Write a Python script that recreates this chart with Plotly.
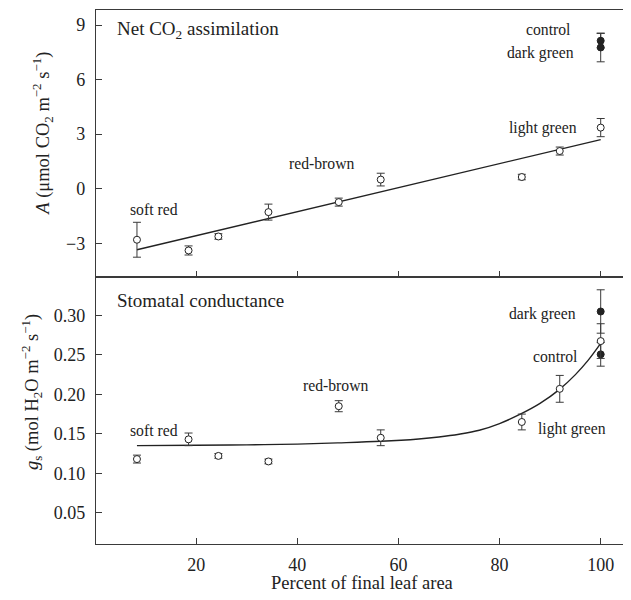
import plotly.graph_objects as go

# ---- data ----
leaf_pct = [8.3, 18.5, 24.4, 34.3, 48.2, 56.5, 84.4, 91.9, 100]
A_open = [-2.81, -3.40, -2.63, -1.29, -0.74, 0.50, 0.64, 2.07, 3.36]
A_open_err = [0.96, 0.25, 0.15, 0.44, 0.22, 0.35, 0.15, 0.22, 0.50]
gs_open = [0.118, 0.143, 0.122, 0.115, 0.185, 0.145, 0.165, 0.207, 0.2675]
gs_open_err = [0.005, 0.008, 0.003, 0.003, 0.007, 0.010, 0.010, 0.017, 0.022]

filled_pct = [100, 100]              # control, dark green
A_filled = [8.14, 7.77]
A_filled_err = [0.40, 0.79]
gs_filled = [0.2507, 0.305]
gs_filled_err = [0.015, 0.0275]

A_fit_x = [8.3, 100]
A_fit_y = [-3.36, 2.70]
gs_fit_x = [8.3, 20, 30, 40, 48, 56.5, 64, 68, 72, 76, 80, 84, 88, 91.8, 95, 97.5, 100]
gs_fit_y = [0.1350, 0.1355, 0.1360, 0.1370, 0.1385, 0.1405, 0.1435, 0.1460, 0.1495,
            0.1545, 0.1630, 0.1745, 0.1885, 0.2060, 0.2250, 0.2430, 0.2645]

x_ticks = [20, 40, 60, 80, 100]
A_ticks = [-3, 0, 3, 6, 9]
gs_ticks = [0.05, 0.10, 0.15, 0.20, 0.25, 0.30]

FONT = "Liberation Serif, Times New Roman, serif"
INK = "#222222"
AX = "#3a3a3a"

fig = go.Figure()

# top panel (x2, y2)
fig.add_trace(go.Scatter(x=A_fit_x, y=A_fit_y, mode="lines", xaxis="x2", yaxis="y2",
                         line=dict(color=INK, width=1.4), showlegend=False))
fig.add_trace(go.Scatter(x=leaf_pct, y=A_open, mode="markers", xaxis="x2", yaxis="y2",
                         error_y=dict(type="data", array=A_open_err, color=AX, thickness=1, width=4),
                         marker=dict(symbol="circle", size=7, color="white", line=dict(color=INK, width=1)),
                         showlegend=False))
fig.add_trace(go.Scatter(x=filled_pct, y=A_filled, mode="markers", xaxis="x2", yaxis="y2",
                         error_y=dict(type="data", array=A_filled_err, color=AX, thickness=1, width=4),
                         marker=dict(symbol="circle", size=7, color=INK, line=dict(color=INK, width=1)),
                         showlegend=False))

# bottom panel (x, y)
fig.add_trace(go.Scatter(x=gs_fit_x, y=gs_fit_y, mode="lines", line_shape="spline",
                         line=dict(color=INK, width=1.4), showlegend=False))
fig.add_trace(go.Scatter(x=filled_pct, y=gs_filled, mode="markers",
                         error_y=dict(type="data", array=gs_filled_err, color=AX, thickness=1, width=4),
                         marker=dict(symbol="circle", size=7, color=INK, line=dict(color=INK, width=1)),
                         showlegend=False))
fig.add_trace(go.Scatter(x=leaf_pct, y=gs_open, mode="markers",
                         error_y=dict(type="data", array=gs_open_err, color=AX, thickness=1, width=4),
                         marker=dict(symbol="circle", size=7, color="white", line=dict(color=INK, width=1)),
                         showlegend=False))

axis_common = dict(showline=True, linecolor=AX, linewidth=1.3, mirror=True, ticks="inside",
                   ticklen=6, tickwidth=1, tickcolor=AX, showgrid=False, zeroline=False,
                   automargin=False, tickfont=dict(family=FONT, size=18, color=INK))

# the page body adds an 8px offset, so the figure is sized/positioned to compensate
fig.update_layout(
    width=623, height=592,
    margin=dict(l=88, r=4, t=2, b=56),
    paper_bgcolor="white", plot_bgcolor="white",
    font=dict(family=FONT, color=INK),
    xaxis=dict(domain=[0, 1], range=[0.2, 105.2], tickvals=x_ticks, anchor="y",
               ticklabelstandoff=4, **axis_common),
    yaxis=dict(domain=[0, 0.5], range=[0.0104, 0.3487], tickvals=gs_ticks, tickformat=".2f",
               anchor="x", ticklabelstandoff=6, **axis_common),
    xaxis2=dict(domain=[0, 1], range=[0.2, 105.2], tickvals=x_ticks, anchor="y2",
                showticklabels=False, **axis_common),
    yaxis2=dict(domain=[0.5, 1], range=[-4.86, 9.83], tickvals=A_ticks, anchor="x2",
                ticklabelstandoff=6, **axis_common),
)

lab = dict(family=FONT, size=15.7, color=INK)
ann = [
    # top panel
    dict(x=4.05, y=8.73, xref="x2", yref="y2", text="Net CO<sub>2</sub> assimilation", xanchor="left",
         font=dict(family=FONT, size=19, color=INK)),
    dict(x=94.6, y=8.73, xref="x2", yref="y2", text="control", xanchor="right", font=lab),
    dict(x=95.2, y=7.48, xref="x2", yref="y2", text="dark green", xanchor="right", font=lab),
    dict(x=95.8, y=3.34, xref="x2", yref="y2", text="light green", xanchor="right", font=lab),
    dict(x=44.8, y=1.38, xref="x2", yref="y2", text="red-brown", xanchor="center", font=lab),
    dict(x=11.75, y=-1.16, xref="x2", yref="y2", text="soft red", xanchor="center", font=lab),
    # bottom panel
    dict(x=4.05, y=0.319, xref="x", yref="y", text="Stomatal conductance", xanchor="left",
         font=dict(family=FONT, size=19, color=INK)),
    dict(x=95.6, y=0.302, xref="x", yref="y", text="dark green", xanchor="right", font=lab),
    dict(x=95.9, y=0.2482, xref="x", yref="y", text="control", xanchor="right", font=lab),
    dict(x=47.5, y=0.2106, xref="x", yref="y", text="red-brown", xanchor="center", font=lab),
    dict(x=11.6, y=0.1537, xref="x", yref="y", text="soft red", xanchor="center", font=lab),
    dict(x=87.3, y=0.1567, xref="x", yref="y", text="light green", xanchor="left", font=lab),
    # axis titles
    dict(x=0.5, y=-0.073, xref="paper", yref="paper", xanchor="center",
         text="Percent of final leaf area", font=dict(family=FONT, size=18.5, color=INK)),
    dict(x=-0.100, y=0.768, xref="paper", yref="paper", textangle=-90, xanchor="center",
         text="<i>A</i> (μmol CO<sub>2</sub> m<sup>−2</sup> s<sup>−1</sup>)",
         font=dict(family=FONT, size=18.5, color=INK)),
    dict(x=-0.120, y=0.285, xref="paper", yref="paper", textangle=-90, xanchor="center",
         text="<i>g</i><sub>s</sub> (mol H<sub>2</sub>O m<sup>−2</sup> s<sup>−1</sup>)",
         font=dict(family=FONT, size=18.5, color=INK)),
]
for a in ann:
    a.setdefault("showarrow", False)
    a.setdefault("yanchor", "middle")
fig.update_layout(annotations=ann)

fig.write_html("out.html")
